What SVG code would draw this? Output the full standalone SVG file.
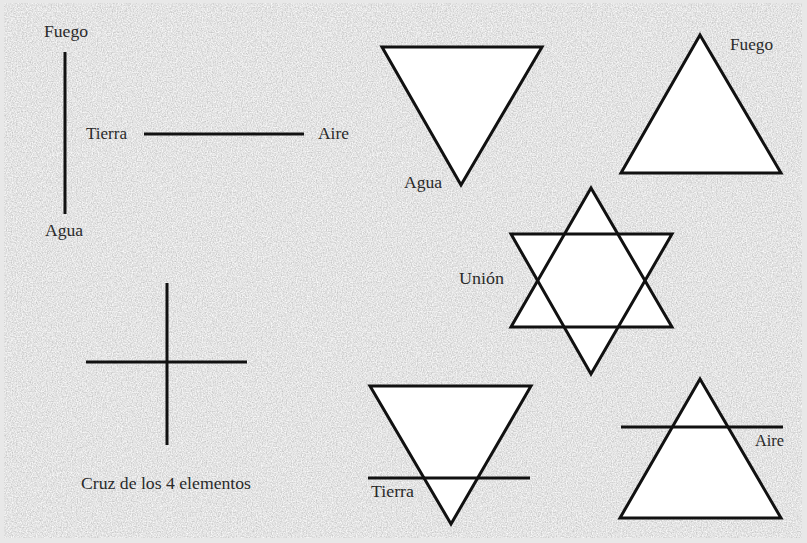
<svg xmlns="http://www.w3.org/2000/svg" width="807" height="543" viewBox="0 0 807 543">
<defs>
<filter id="noise" x="0" y="0" width="100%" height="100%">
<feTurbulence type="fractalNoise" baseFrequency="0.8" numOctaves="2" seed="3" result="t"/>
<feColorMatrix in="t" type="matrix" values="0.6 0 0 0 0.47  0.6 0 0 0 0.47  0.6 0 0 0 0.47  0 0 0 0 1"/>
</filter>
<style>
.s{fill:none;stroke:#111;stroke-width:3;stroke-linecap:butt}
.t{fill:#fff;stroke:#111;stroke-width:3;stroke-linejoin:miter}
.f{fill:#fff;stroke:none}
.l{font-family:"Liberation Serif","DejaVu Serif",serif;font-size:16px;fill:#2a2a2a}
</style>
</defs>
<rect x="0" y="0" width="807" height="543" fill="#e8e8e8"/>
<rect x="4" y="3" width="798" height="535" fill="#c6c6c6" filter="url(#noise)"/>
<g id="cruz-elementos">
<line class="s" x1="65" y1="52" x2="65" y2="214"/>
<line class="s" x1="144" y1="134" x2="304" y2="134"/>
<text class="l" x="44" y="37" textLength="44" lengthAdjust="spacingAndGlyphs">Fuego</text>
<text class="l" x="86" y="139" textLength="41" lengthAdjust="spacingAndGlyphs">Tierra</text>
<text class="l" x="318" y="139" textLength="31" lengthAdjust="spacingAndGlyphs">Aire</text>
<text class="l" x="45" y="236" textLength="38" lengthAdjust="spacingAndGlyphs">Agua</text>
</g>
<g id="cruz">
<line class="s" x1="167" y1="283" x2="167" y2="445"/>
<line class="s" x1="86" y1="362" x2="247" y2="362"/>
<text class="l" x="81" y="489" textLength="170" lengthAdjust="spacingAndGlyphs">Cruz de los 4 elementos</text>
</g>
<g id="agua">
<polygon class="t" points="382,47 542,47 461,185"/>
<text class="l" x="404" y="188" textLength="38" lengthAdjust="spacingAndGlyphs">Agua</text>
</g>
<g id="fuego">
<polygon class="t" points="700,35 781,173 621,173"/>
<text class="l" x="730" y="50" textLength="43" lengthAdjust="spacingAndGlyphs">Fuego</text>
</g>
<g id="union">
<polygon class="f" points="591,188 672,327 511,327"/>
<polygon class="f" points="511,234 672,234 591,374"/>
<polygon class="s" points="591,188 672,327 511,327"/>
<polygon class="s" points="511,234 672,234 591,374"/>
<text class="l" x="459" y="284" textLength="45" lengthAdjust="spacingAndGlyphs">Unión</text>
</g>
<g id="tierra">
<polygon class="t" points="370,386 531,386 451,524"/>
<line class="s" x1="368" y1="478" x2="530" y2="478"/>
<text class="l" x="371" y="497" textLength="43" lengthAdjust="spacingAndGlyphs">Tierra</text>
</g>
<g id="aire">
<polygon class="t" points="700,379 781,518 620,518"/>
<line class="s" x1="621" y1="427" x2="783" y2="427"/>
<text class="l" x="755" y="446" textLength="29" lengthAdjust="spacingAndGlyphs">Aire</text>
</g>
</svg>
